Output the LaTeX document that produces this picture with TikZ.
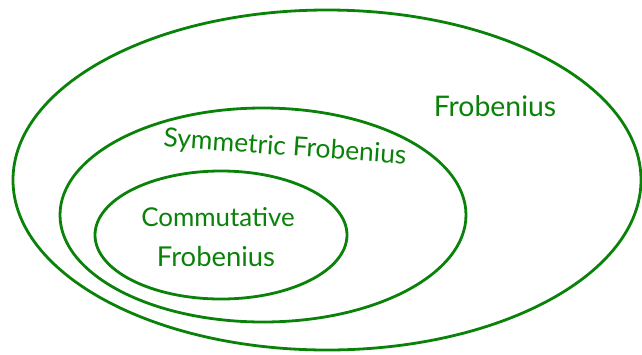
\documentclass[tikz,border=0pt]{standalone}
\usepackage{fontspec}
\setmainfont{Lato}
\definecolor{venngreen}{RGB}{10,130,10}
\begin{document}
\begin{tikzpicture}[x=1bp,y=-1bp,
  set/.style={draw=venngreen,line width=2.8bp},
  lbl/.style={text=venngreen,inner sep=0pt,align=center}]
\useasboundingbox (0,0) rectangle (642,354);
\draw[set] (327,180) ellipse (314 and 170);
\draw[set] (263,215) ellipse (203 and 107);
\draw[set] (221,235) ellipse (126 and 64);
\node[lbl,font=\fontsize{28.5}{30}\selectfont] (frob) at (495,106) {Frobenius};
\node[lbl,rotate=-4,font=\fontsize{26.5}{28}\selectfont] (symm) at (285,148) {Symmetric Frobenius};
\node[lbl,font=\fontsize{26}{28}\selectfont] (comm) at (218,217) {Commutative};
\node[lbl,font=\fontsize{27.5}{29}\selectfont] (commfrob) at (216,257) {Frobenius};
\end{tikzpicture}
\end{document}
